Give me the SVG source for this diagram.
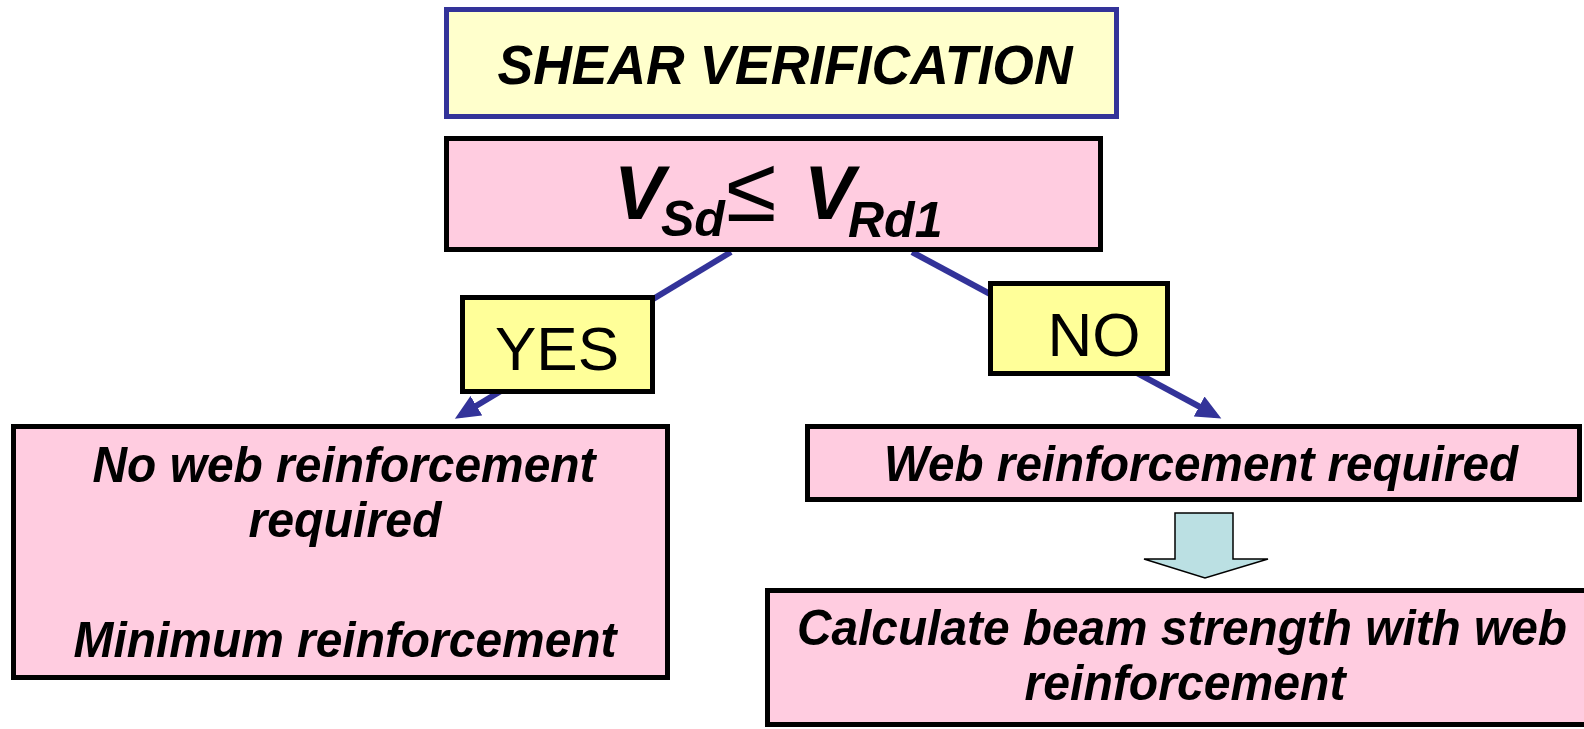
<svg xmlns="http://www.w3.org/2000/svg" width="1584" height="729" viewBox="0 0 1584 729">
<style>
.box{fill:#FFCCE0;stroke:#000;stroke-width:5}
.lbl{fill:#FFFF99;stroke:#000;stroke-width:5}
.bi{font-family:"Liberation Sans",Arial,sans-serif;font-weight:bold;font-style:italic;fill:#000;text-anchor:middle}
.reg{font-family:"Liberation Sans",Arial,sans-serif;fill:#000;text-anchor:middle}
.con{stroke:#333399;stroke-width:6;fill:none}
</style>
<defs>
<marker id="ah" markerWidth="5" markerHeight="4" refX="3" refY="2" orient="auto" markerUnits="strokeWidth">
<path d="M0,0.1 L4.2,2 L0,3.9 Z" fill="#333399"/>
</marker>
</defs>
<rect width="1584" height="729" fill="#fff"/>
<g id="connectors">
<line class="con" x1="731" y1="252" x2="461" y2="415" marker-end="url(#ah)"/>
<line class="con" x1="912" y1="252" x2="1215" y2="415" marker-end="url(#ah)"/>
<polygon points="1175,513 1233,513 1233,559 1268,559 1205,578 1144,559 1175,559" fill="#BBE0E3" stroke="#000" stroke-width="1.5"/>
</g>
<g id="title">
<rect x="446.5" y="9.5" width="670" height="107" fill="#FFFFCC" stroke="#333399" stroke-width="5"/>
<text class="bi" x="785" y="84" font-size="55" textLength="575" lengthAdjust="spacingAndGlyphs">SHEAR VERIFICATION</text>
</g>
<g id="condition">
<rect class="box" x="446.5" y="138.5" width="654" height="111"/>
<text font-family="'Liberation Sans',Arial,sans-serif" fill="#000" y="219"><tspan x="614" font-size="76" font-weight="bold" font-style="italic">V</tspan><tspan x="661" y="236" font-size="50" font-weight="bold" font-style="italic">Sd</tspan><tspan x="726" y="221" font-size="92">≤</tspan><tspan x="804" y="219" font-size="76" font-weight="bold" font-style="italic">V</tspan><tspan x="848" y="237" font-size="50" font-weight="bold" font-style="italic">Rd1</tspan></text>
</g>
<g id="yes">
<rect class="lbl" x="462.5" y="297.5" width="190" height="94"/>
<text class="reg" x="557" y="370" font-size="62">YES</text>
</g>
<g id="no">
<rect class="lbl" x="990.5" y="283.5" width="177" height="90"/>
<text class="reg" x="1094" y="356" font-size="62">NO</text>
</g>
<g id="no-web">
<rect class="box" x="13.5" y="426.5" width="654" height="251"/>
<text class="bi" x="344" y="482" font-size="50" textLength="503" lengthAdjust="spacingAndGlyphs">No web reinforcement</text>
<text class="bi" x="345" y="537" font-size="50" textLength="193" lengthAdjust="spacingAndGlyphs">required</text>
<text class="bi" x="345" y="657" font-size="50" textLength="543" lengthAdjust="spacingAndGlyphs">Minimum reinforcement</text>
</g>
<g id="web-required">
<rect class="box" x="807.5" y="426.5" width="772" height="73"/>
<text class="bi" x="1201" y="481" font-size="50" textLength="634" lengthAdjust="spacingAndGlyphs">Web reinforcement required</text>
</g>
<g id="calculate">
<rect class="box" x="767.5" y="590.5" width="830" height="134"/>
<text class="bi" x="1182" y="645" font-size="50" textLength="770" lengthAdjust="spacingAndGlyphs">Calculate beam strength with web</text>
<text class="bi" x="1185" y="700" font-size="50" textLength="321" lengthAdjust="spacingAndGlyphs">reinforcement</text>
</g>
</svg>
